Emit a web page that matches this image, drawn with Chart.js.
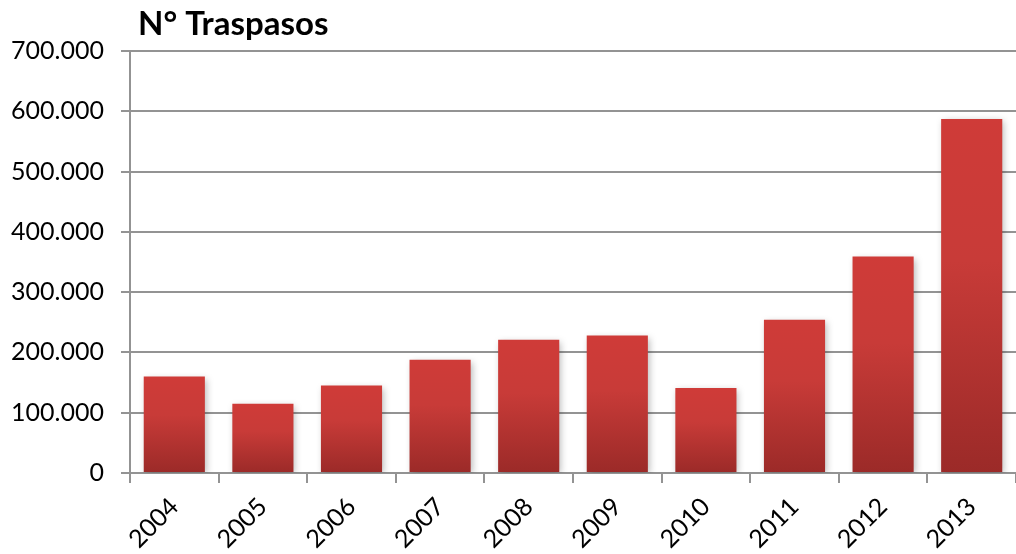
<!DOCTYPE html>
<html>
<head>
<meta charset="utf-8">
<script src="https://cdn.jsdelivr.net/npm/chart.js@4.4.1/dist/chart.umd.min.js"></script>
<style>
  html, body { margin: 0; padding: 0; background: #ffffff; }
  #wrap { width: 1016px; height: 554px; position: relative; }
</style>
</head>
<body>
<div id="wrap"><canvas id="c" width="1016" height="554"></canvas></div>
<script>
const chartTitle = 'N° Traspasos';
const years = ['2004', '2005', '2006', '2007', '2008', '2009', '2010', '2011', '2012', '2013'];
const traspasos = [160000, 115000, 145000, 188000, 221000, 228000, 141000, 254000, 359000, 587000];
const yTicks = [0, 100000, 200000, 300000, 400000, 500000, 600000, 700000];

const FONT = 'Lato, "Open Sans", sans-serif';
const GRID = '#939393';

function fmtThousands(v) {
  return String(v).replace(/\B(?=(\d{3})+(?!\d))/g, '.');
}

// Vertical gradient for each bar: brighter red at the top, darker at the base
function barGradient(ctx) {
  const chart = ctx.chart;
  const y = chart.scales && chart.scales.y;
  if (!y || ctx.raw == null) return '#c0392b';
  const top = y.getPixelForValue(ctx.raw);
  const base = y.getPixelForValue(0);
  if (!isFinite(top) || !isFinite(base) || top === base) return '#c0392b';
  const g = chart.ctx.createLinearGradient(0, top, 0, base);
  g.addColorStop(0, '#cf3b38');
  g.addColorStop(0.4, '#c83b38');
  g.addColorStop(1, '#9b2a28');
  return g;
}

// Soft drop shadow behind the bars
const barShadow = {
  id: 'barShadow',
  beforeDatasetsDraw(chart) {
    const c = chart.ctx;
    c.save();
    c.shadowColor = 'rgba(0,0,0,0.28)';
    c.shadowBlur = 7;
    c.shadowOffsetX = 2;
    c.shadowOffsetY = 2;
  },
  afterDatasetsDraw(chart) {
    chart.ctx.restore();
  }
};

// Bold heading at the top-left of the plot
const heading = {
  id: 'heading',
  afterDraw(chart) {
    const c = chart.ctx;
    c.save();
    c.font = 'bold 33px ' + FONT;
    c.fillStyle = '#000000';
    c.textAlign = 'left';
    c.textBaseline = 'alphabetic';
    c.fillText(chartTitle, chart.chartArea.left + 8, 35);
    c.restore();
  }
};

const chart = new Chart(document.getElementById('c'), {
  type: 'bar',
  data: {
    labels: years,
    datasets: [{
      data: traspasos,
      backgroundColor: barGradient,
      borderWidth: 0,
      categoryPercentage: 1.0,
      barPercentage: 0.69
    }]
  },
  options: {
    responsive: false,
    animation: false,
    devicePixelRatio: 1,
    layout: { padding: { top: 51, right: 0, bottom: 0, left: 0 } },
    plugins: {
      legend: { display: false },
      title: { display: false },
      tooltip: { enabled: false }
    },
    scales: {
      x: {
        offset: true,
        grid: {
          display: true,
          offset: true,
          drawOnChartArea: false,
          drawTicks: true,
          tickLength: 10,
          color: GRID,
          lineWidth: 2
        },
        border: { display: true, color: GRID, width: 2 },
        ticks: {
          color: '#000000',
          font: { family: FONT, size: 25 },
          maxRotation: 45,
          minRotation: 45,
          padding: 9,
          autoSkip: false
        },
        afterFit(scale) { scale.height = 81; }
      },
      y: {
        min: 0,
        max: 700000,
        afterBuildTicks(scale) { scale.ticks = yTicks.map(v => ({ value: v })); },
        grid: {
          color: GRID,
          lineWidth: 2,
          drawTicks: true,
          tickLength: 9
        },
        border: { display: true, color: GRID, width: 2 },
        ticks: {
          color: '#000000',
          font: { family: FONT, size: 25 },
          padding: 17,
          callback: (v) => fmtThousands(v)
        },
        afterFit(scale) { scale.width = 130; }
      }
    }
  },
  plugins: [barShadow, heading]
});
// Re-resolve bar colours now that the scales have their pixel ranges
chart.update('none');
</script>
</body>
</html>
